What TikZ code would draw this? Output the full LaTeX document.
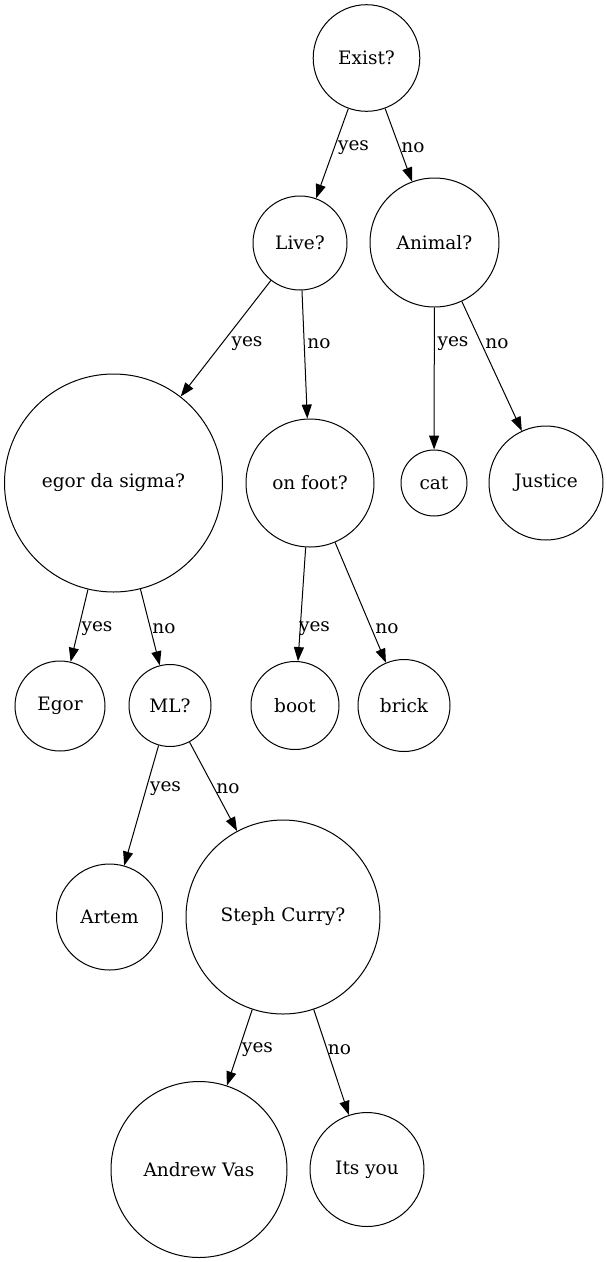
\documentclass[tikz,border=0pt]{standalone}
\usepackage{fontspec}
\setmainfont{DejaVu Serif}
\usetikzlibrary{arrows.meta}
\begin{document}
\begin{tikzpicture}[x=1pt,y=-1pt,
  every node/.style={font=\fontsize{18.5}{22}\selectfont},
  tn/.style={circle,draw,line width=1pt,inner sep=0pt},
  edge/.style={line width=1pt,-{Triangle[length=14pt,width=10pt]}},
  lbl/.style={inner sep=0pt,anchor=center,yshift=-3pt}]
\useasboundingbox (0,0) rectangle (607,1262);
\node[tn,minimum size=106.6pt] (exist) at (366.5,58) {Exist?};
\node[tn,minimum size=94pt] (live) at (300,243) {Live?};
\node[tn,minimum size=129pt] (animal) at (434.5,242.5) {Animal?};
\node[tn,minimum size=218pt] (egor) at (113.5,483) {egor da sigma?};
\node[tn,minimum size=128pt] (foot) at (310,483) {on foot?};
\node[tn,minimum size=66pt] (cat) at (434,483) {cat};
\node[tn,minimum size=114pt] (justice) at (546,483) {Justice};
\node[tn,minimum size=90pt] (Egor) at (60,706) {Egor};
\node[tn,minimum size=82pt] (ml) at (170,705.5) {ML?};
\node[tn,minimum size=88pt] (boot) at (295,705.5) {boot};
\node[tn,minimum size=92pt] (brick) at (404,705.5) {brick};
\node[tn,minimum size=106pt] (artem) at (109.5,917) {Artem};
\node[tn,minimum size=194pt] (steph) at (283,917) {Steph Curry?};
\node[tn,minimum size=176pt] (andrew) at (199,1169.5) {Andrew Vas};
\node[tn,minimum size=114pt] (its) at (367,1169.5) {Its you};

\draw[edge] (exist) -- (live) node[lbl,at={(353.5,145)}] {yes};
\draw[edge] (exist) -- (animal) node[lbl,at={(413,145)}] {no};
\draw[edge] (live) -- (egor) node[lbl,at={(247,341)}] {yes};
\draw[edge] (live) -- (foot) node[lbl,at={(319,341)}] {no};
\draw[edge] (animal) -- (cat) node[lbl,at={(453,341)}] {yes};
\draw[edge] (animal) -- (justice) node[lbl,at={(497,341)}] {no};
\draw[edge] (egor) -- (Egor) node[lbl,at={(97,626)}] {yes};
\draw[edge] (egor) -- (ml) node[lbl,at={(164,626)}] {no};
\draw[edge] (foot) -- (boot) node[lbl,at={(314.5,626)}] {yes};
\draw[edge] (foot) -- (brick) node[lbl,at={(387,626)}] {no};
\draw[edge] (ml) -- (artem) node[lbl,at={(165.5,786)}] {yes};
\draw[edge] (ml) -- (steph) node[lbl,at={(228,786)}] {no};
\draw[edge] (steph) -- (andrew) node[lbl,at={(257.5,1047)}] {yes};
\draw[edge] (steph) -- (its) node[lbl,at={(339.5,1047)}] {no};
\end{tikzpicture}
\end{document}
